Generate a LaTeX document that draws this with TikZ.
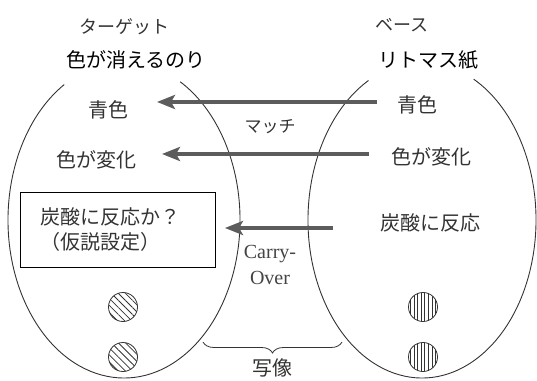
\documentclass[tikz,border=0pt]{standalone}
\usepackage{fontspec}
\newfontfamily\jp{Noto Sans CJK JP}
\newfontfamily\lserif{Liberation Serif}
\usetikzlibrary{arrows.meta,decorations.pathreplacing,patterns.meta}
\definecolor{ink}{HTML}{333333}
\definecolor{arrowgray}{HTML}{5C5C5C}
\definecolor{latgray}{HTML}{444444}
\begin{document}
\begin{tikzpicture}[x=1pt,y=1pt,
  every node/.style={inner sep=0pt, outer sep=0pt},
  jtxt/.style={font=\jp\fontsize{20}{25}\selectfont, text=ink},
  ttl/.style={font=\jp\fontsize{20}{24}\selectfont, text=black},
  kana/.style={font=\jp\fontsize{18}{22}\selectfont, text=ink},
  arr/.style={line width=4pt, draw=arrowgray, -{Stealth[length=18pt,width=14pt,inset=4pt]}},
  oval/.style={draw=ink, line width=0.9pt},
  hatchl/.style={draw=ink, line width=0.8pt, pattern={Lines[angle=-45,distance=5pt,line width=0.8pt]}, pattern color=ink},
  hatchv/.style={draw=ink, line width=0.8pt, pattern={Lines[angle=90,distance=3.6pt,line width=0.7pt]}, pattern color=ink},
  hypo/.style={draw=black, line width=1pt, minimum width=195pt, minimum height=74pt, inner xsep=20pt, text width=155pt, align=left, font=\jp\fontsize{20}{25}\selectfont, text=ink},
  latin/.style={font=\lserif\fontsize{20}{26}\selectfont, text=latgray, align=center}
]
\useasboundingbox (0,0) rectangle (537,380);

% ovals
\draw[oval] (124,160) ++(121:116pt and 158pt) arc[start angle=121, end angle=421, x radius=116pt, y radius=158pt];
\draw[oval] (422,160) ++(118:114pt and 158pt) arc[start angle=118, end angle=423, x radius=114pt, y radius=158pt];

% headings
\node[kana] (tgt) at (124,353) {ターゲット};
\node[kana] (base) at (402,355) {ベース};
\node[ttl] (tgtname) at (136,320) {色が消えるのり};
\node[ttl] (basename) at (428,320) {リトマス紙};

% left items
\node[jtxt] (lblue) at (108,270) {青色};
\node[jtxt] (lchange) at (96,220) {色が変化};
\node[hypo] (lhyp) at (117.5,150) {炭酸に反応か？\\（仮説設定）};

% right items
\node[jtxt] (rblue) at (417,275) {青色};
\node[jtxt] (rchange) at (431,223) {色が変化};
\node[jtxt] (rcarb) at (430,157) {炭酸に反応};

% middle labels
\node[kana, font=\jp\fontsize{17}{20}\selectfont] (match) at (270,253) {マッチ};
\node[latin] (carry) at (270,115) {Carry-\\Over};
\node[jtxt] (mapping) at (272,12) {写像};

% arrows
\coordinate (a1s) at (377,278); \coordinate (a1e) at (157,278);
\coordinate (a2s) at (369,226); \coordinate (a2e) at (162,226);
\coordinate (a3s) at (333,152); \coordinate (a3e) at (225,152);
\draw[arr] (a1s) -- (a1e);
\draw[arr] (a2s) -- (a2e);
\draw[arr] (a3s) -- (a3e);

% brace
\coordinate (bl) at (203,38); \coordinate (br) at (342,38);
\draw[draw=ink, line width=0.8pt, decorate, decoration={brace, amplitude=11pt, mirror}] (bl) -- (br);

% hatched circles
\draw[hatchl] (123,73) circle[radius=14.5pt];
\draw[hatchl] (123,23) circle[radius=14.5pt];
\draw[hatchv] (423,73) circle[radius=14.5pt];
\draw[hatchv] (423,23) circle[radius=14.5pt];
\end{tikzpicture}
\end{document}
